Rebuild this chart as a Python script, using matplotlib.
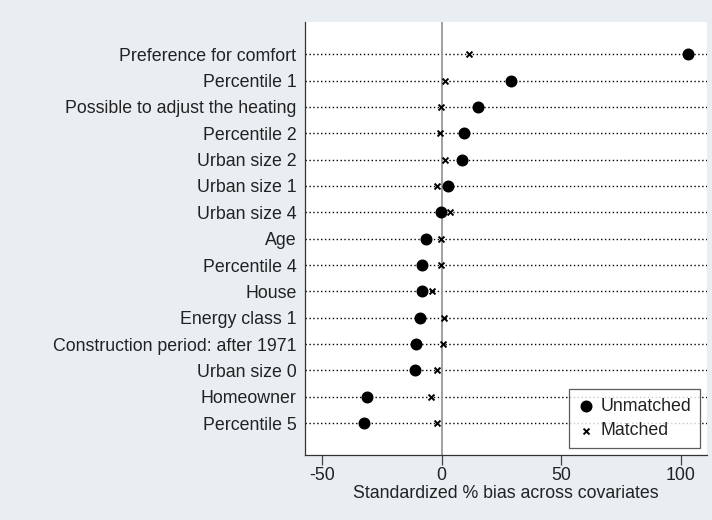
import matplotlib
matplotlib.use("Agg")
import matplotlib.pyplot as plt
import numpy as np

plt.rcParams['font.family'] = ['Liberation Sans', 'DejaVu Sans']

categories = [
    "Preference for comfort", "Percentile 1", "Possible to adjust the heating",
    "Percentile 2", "Urban size 2", "Urban size 1", "Urban size 4", "Age",
    "Percentile 4", "House", "Energy class 1", "Construction period: after 1971",
    "Urban size 0", "Homeowner", "Percentile 5",
]
unmatched = [103.0, 29.2, 15.2, 9.3, 8.5, 2.8, -0.4, -6.4, -8.1, -8.4, -8.9,
             -10.9, -11.2, -31.3, -32.4]
matched = [11.4, 1.5, -0.1, -0.8, 1.4, -1.8, 3.3, -0.4, -0.1, -3.9, 1.1,
           0.7, -2.0, -4.6, -2.1]
xticks = [-50, 0, 50, 100]

bg = '#e8eef2'
fig = plt.figure(figsize=(7.12, 5.2), dpi=100, facecolor=bg)
ax = fig.add_axes([0.428, 0.125, 0.565, 0.832])
ax.set_facecolor('white')

y = np.arange(len(categories))
for yi in y:
    ax.axhline(yi, color='black', linestyle=(0, (1, 1.8)), linewidth=1.0, zorder=1)
ax.axvline(0, color='#999999', linewidth=1.3, zorder=1.5)

ax.scatter(unmatched, y, s=58, color='black', marker='o', zorder=3, label='Unmatched')
ax.scatter(matched, y, s=18, color='black', marker='x', linewidths=1.4, zorder=3, label='Matched')

ax.set_xlim(-57.3, 111.0)
ax.set_ylim(len(categories) - 1 + 1.21, -1.21)
ax.set_yticks(y)
ax.set_yticklabels(categories, fontsize=12.8, color='#222222')
ax.tick_params(axis='y', length=0, pad=6)
ax.set_xticks(xticks)
ax.set_xticklabels([str(v) for v in xticks], fontsize=12.8, color='#222222')
ax.tick_params(axis='x', length=7, width=0.9, color='#444444', pad=2)
ax.set_xlabel("Standardized % bias across covariates", fontsize=12.8,
              color='#222222', labelpad=0)

for s in ['top', 'right']:
    ax.spines[s].set_visible(False)
for s in ['left', 'bottom']:
    ax.spines[s].set_color('#333333')
    ax.spines[s].set_linewidth(0.9)

leg = ax.legend(loc='lower right', bbox_to_anchor=(0.983, 0.016), fontsize=12.8,
                frameon=True, fancybox=False, edgecolor='#333333',
                handletextpad=0.3, borderpad=0.5, labelspacing=0.42,
                handlelength=1.0, borderaxespad=0.0)
leg.get_frame().set_linewidth(0.9)
for t in leg.get_texts():
    t.set_color('#222222')

fig.savefig('out.png', dpi=100, facecolor=bg)
